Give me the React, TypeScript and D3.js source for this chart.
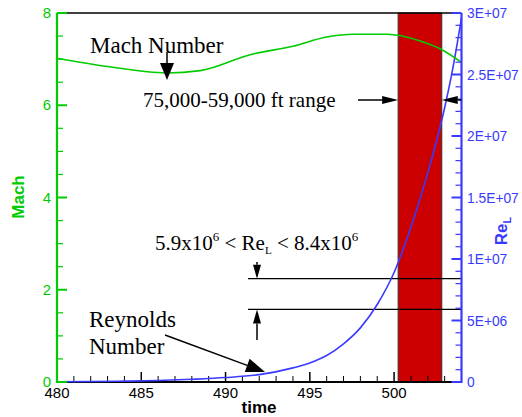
import React from 'react';
import * as d3 from 'd3';

// Mach number vs time
const machTime = [480, 483, 486.5, 488.5, 491.5, 494, 496, 497.6, 499.6, 501.5, 502.7, 504];
const machValues = [7.02, 6.84, 6.7, 6.75, 7.1, 7.28, 7.48, 7.54, 7.54, 7.4, 7.23, 6.93];

// Reynolds number vs time
const reTime = [480, 482, 484, 486, 488, 490, 492, 494, 495, 496, 497, 498, 499, 500, 501, 502, 503, 503.5, 504];
const reValues = [0.02e6, 0.04e6, 0.07e6, 0.12e6, 0.22e6, 0.36e6, 0.6e6, 1.15e6, 1.55e6, 2.15e6, 3.1e6, 4.4e6, 6.3e6, 8.9e6, 12.6e6, 17.0e6, 22.3e6, 25.6e6, 29.6e6];

// altitude range band (time) and Re limits
const bandRange = [500.24, 502.83];
const reLimits = [5.9e6, 8.4e6];

const timeTicks = [480, 485, 490, 495, 500];
const machTicks = [0, 2, 4, 6, 8];
const reTicks = [0, 5e6, 1e7, 1.5e7, 2e7, 2.5e7, 3e7];
const reTickLabels = ['0', '5E+06', '1E+07', '1.5E+07', '2E+07', '2.5E+07', '3E+07'];

const GREEN = '#00cc00';
const BLUE = '#3a3aff';
const SANS = '"Liberation Sans", Arial, sans-serif';
const SERIF = '"Liberation Serif", "Times New Roman", serif';

const Arrow = ({ x1, y1, x2, y2, len = 16, half = 6 }) => {
    const a = Math.atan2(y2 - y1, x2 - x1);
    const bx = x2 - len * Math.cos(a);
    const by = y2 - len * Math.sin(a);
    const px = -Math.sin(a) * half;
    const py = Math.cos(a) * half;
    return (
        <g>
            <line x1={x1} y1={y1} x2={bx} y2={by} stroke="#000" strokeWidth={1.5}/>
            <path d={`M${x2},${y2}L${bx + px},${by + py}L${bx - px},${by - py}Z`} fill="#000"/>
        </g>
    );
};

export default function App() {
    const width = 522, height = 417;
    const left = 57, right = 461.5, top = 13, bottom = 382;

    const x = d3.scaleLinear().domain([480, 504]).range([left, right]);
    const yM = d3.scaleLinear().domain([0, 8]).range([bottom, top]);
    const yR = d3.scaleLinear().domain([0, 3e7]).range([bottom, top]);
    const axisEnd = x(503.5);

    const machLine = d3.line<number>()
        .x((d, i) => x(machTime[i]))
        .y(d => yM(d))
        .curve(d3.curveMonotoneX);
    const reLine = d3.line<number>()
        .x((d, i) => x(reTime[i]))
        .y(d => yR(d))
        .curve(d3.curveMonotoneX);

    const timeMinor = d3.range(481, 504, 1).filter(t => t % 5 !== 0);
    const machMinor = d3.range(0, 8, 0.5).filter(v => v % 2 !== 0);
    const reMinor = d3.range(0, 3e7, 1e6).filter(v => v % 5e6 !== 0);

    return (
        <svg width={width} height={height} style={{ position: 'absolute', left: 0, top: 0 }}>
            <rect width={width} height={height} fill="#fff"/>

            {/* altitude band */}
            <rect x={x(bandRange[0])} y={top} width={x(bandRange[1]) - x(bandRange[0])}
                  height={bottom - top} fill="#cc0000" stroke="#333" strokeWidth={1}/>

            {/* frame */}
            <line x1={left} y1={top} x2={axisEnd} y2={top} stroke="#000" strokeWidth={1.5}/>
            <line x1={left} y1={bottom} x2={axisEnd} y2={bottom} stroke="#000" strokeWidth={2}/>
            {timeTicks.map(t => (
                <line key={'tM' + t} x1={x(t)} x2={x(t)} y1={bottom} y2={bottom - 10} stroke="#000" strokeWidth={1.5}/>
            ))}
            {timeMinor.map(t => (
                <line key={'tm' + t} x1={x(t)} x2={x(t)} y1={bottom} y2={bottom - 6} stroke="#000" strokeWidth={1}/>
            ))}
            {timeTicks.map(t => (
                <text key={'tl' + t} x={x(t)} y={398} textAnchor="middle" fontFamily={SANS} fontSize={15}>{t}</text>
            ))}
            <text x={259} y={413} textAnchor="middle" fontFamily={SANS} fontSize={17} fontWeight="bold">time</text>

            {/* Re limit lines */}
            {reLimits.map(r => (
                <line key={'rl' + r} x1={248} x2={right} y1={yR(r)} y2={yR(r)} stroke="#000" strokeWidth={1.2}/>
            ))}

            {/* curves */}
            <path d={reLine(reValues)} fill="none" stroke={BLUE} strokeWidth={1.6}/>
            <path d={machLine(machValues)} fill="none" stroke={GREEN} strokeWidth={1.6}/>

            {/* left Mach axis */}
            <line x1={left} x2={left} y1={top} y2={bottom + 1} stroke={GREEN} strokeWidth={2.2}/>
            {machTicks.map(v => (
                <line key={'mM' + v} x1={left} x2={left + 10} y1={yM(v)} y2={yM(v)} stroke={GREEN} strokeWidth={2}/>
            ))}
            {machMinor.map(v => (
                <line key={'mm' + v} x1={left} x2={left + 6} y1={yM(v)} y2={yM(v)} stroke={GREEN} strokeWidth={1.2}/>
            ))}
            {machTicks.map(v => (
                <text key={'ml' + v} x={51} y={yM(v) + 5} textAnchor="end" fontFamily={SANS} fontSize={15} fill={GREEN}>{v}</text>
            ))}
            <text transform="translate(24,197) rotate(-90)" textAnchor="middle" fontFamily={SANS}
                  fontSize={17} fontWeight="bold" fill={GREEN}>Mach</text>

            {/* right Re axis */}
            <line x1={right} x2={right} y1={top} y2={bottom + 1} stroke={BLUE} strokeWidth={2.2}/>
            {reTicks.map(v => (
                <line key={'rM' + v} x1={right} x2={right - 10} y1={yR(v)} y2={yR(v)} stroke={BLUE} strokeWidth={2}/>
            ))}
            {reMinor.map(v => (
                <line key={'rm' + v} x1={right} x2={right - 6} y1={yR(v)} y2={yR(v)} stroke={BLUE} strokeWidth={1.2}/>
            ))}
            {reTicks.map((v, i) => (
                <text key={'rtl' + v} x={467} y={yR(v) + 5} fontFamily={SANS} fontSize={13.8} fill={BLUE}>{reTickLabels[i]}</text>
            ))}
            <text transform="translate(507,231) rotate(-90)" textAnchor="middle" fontFamily={SANS}
                  fontSize={17} fontWeight="bold" fill={BLUE}>
                Re<tspan fontSize={11} dy={4}>L</tspan>
            </text>

            {/* annotations */}
            <text x={90} y={53} fontFamily={SERIF} fontSize={23}>Mach Number</text>
            <Arrow x1={167} y1={52} x2={167} y2={80} len={17} half={7}/>

            <text x={143} y={107} fontFamily={SERIF} fontSize={21}>75,000-59,000 ft range</text>
            <Arrow x1={358} y1={100} x2={x(bandRange[0])} y2={100} len={16} half={4}/>
            <Arrow x1={right} y1={100} x2={x(bandRange[1])} y2={100} len={16} half={4}/>

            <text x={155} y={250} fontFamily={SERIF} fontSize={21}>
                5.9x10<tspan fontSize={13} dy={-9}>6</tspan>
                <tspan dy={9}> &lt; Re</tspan>
                <tspan fontSize={11} dy={4}>L</tspan>
                <tspan dy={-4}> &lt; 8.4x10</tspan>
                <tspan fontSize={13} dy={-9}>6</tspan>
            </text>
            <Arrow x1={257} y1={262} x2={257} y2={yR(reLimits[1])} len={14} half={4}/>
            <Arrow x1={257} y1={340} x2={257} y2={yR(reLimits[0])} len={14} half={4}/>

            <text x={89} y={327} fontFamily={SERIF} fontSize={23}>Reynolds</text>
            <text x={89} y={354} fontFamily={SERIF} fontSize={23}>Number</text>
            <Arrow x1={165} y1={335} x2={265} y2={372} len={19} half={7}/>
        </svg>
    );
}
